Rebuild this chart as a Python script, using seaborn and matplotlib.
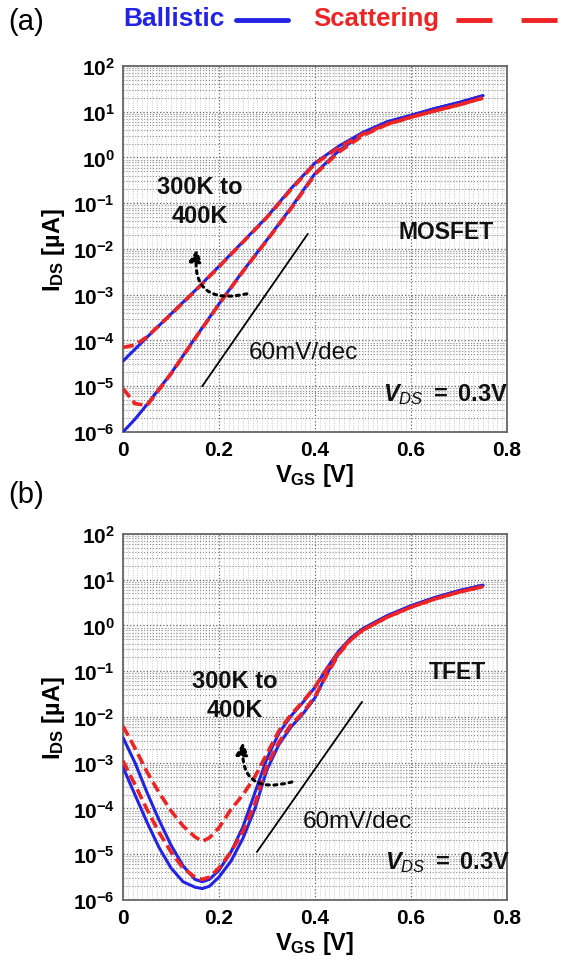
import numpy as np
import pandas as pd
import matplotlib
matplotlib.use("Agg")
import matplotlib.pyplot as plt
import seaborn as sns
from matplotlib.lines import Line2D
from matplotlib.ticker import LogLocator, MultipleLocator, NullFormatter

# ---------------- data (log10 of I_DS in uA) ----------------
# Panel (a) MOSFET
vgs_a = [0, 0.025, 0.05, 0.1, 0.15, 0.2, 0.25, 0.3, 0.35, 0.4, 0.45, 0.5, 0.55, 0.6, 0.65, 0.7, 0.75]
mos_ball_400K = [-4.45, -4.19, -3.93, -3.42, -2.91, -2.38, -1.84, -1.30, -0.68, -0.12, 0.25, 0.55, 0.78, 0.92, 1.07, 1.20, 1.35]
mos_scat_400K = [-4.15, -4.10, -3.92, -3.43, -2.92, -2.39, -1.85, -1.31, -0.70, -0.14, 0.22, 0.51, 0.73, 0.88, 1.02, 1.15, 1.30]
mos_ball_300K = [-6.00, -5.72, -5.40, -4.72, -3.95, -3.20, -2.48, -1.80, -1.10, -0.35, 0.15, 0.52, 0.77, 0.92, 1.07, 1.20, 1.35]
mos_scat_300K = [-5.05, -5.38, -5.42, -4.73, -3.96, -3.21, -2.49, -1.81, -1.12, -0.37, 0.12, 0.48, 0.72, 0.88, 1.02, 1.15, 1.30]

# Panel (b) TFET
vgs_b = [0, 0.025, 0.05, 0.075, 0.1, 0.125, 0.15, 0.165, 0.18, 0.2, 0.225, 0.25, 0.275,
         0.3, 0.325, 0.35, 0.375, 0.4, 0.425, 0.45, 0.475, 0.5, 0.55, 0.6, 0.65, 0.7, 0.75]
tfet_scat_400K = [-2.20, -2.68, -3.20, -3.65, -4.05, -4.38, -4.62, -4.72, -4.64, -4.42, -4.02, -3.70, -3.30,
                  -2.80, -2.30, -1.95, -1.66, -1.34, -0.95, -0.58, -0.30, -0.10, 0.18, 0.40, 0.58, 0.73, 0.85]
tfet_ball_400K = [-2.45, -3.00, -3.65, -4.25, -4.80, -5.25, -5.55, -5.60, -5.55, -5.35, -4.95, -4.40, -3.65,
                  -2.90, -2.35, -1.98, -1.68, -1.35, -0.93, -0.55, -0.27, -0.07, 0.21, 0.43, 0.61, 0.76, 0.88]
tfet_scat_300K = [-2.96, -3.48, -4.02, -4.52, -4.95, -5.30, -5.50, -5.55, -5.50, -5.30, -4.95, -4.50, -3.90,
                  -3.05, -2.55, -2.17, -1.90, -1.55, -1.07, -0.62, -0.31, -0.10, 0.18, 0.40, 0.58, 0.73, 0.85]
tfet_ball_300K = [-3.10, -3.70, -4.30, -4.85, -5.30, -5.60, -5.72, -5.75, -5.70, -5.50, -5.15, -4.65, -4.00,
                  -3.15, -2.60, -2.22, -1.93, -1.58, -1.05, -0.60, -0.28, -0.07, 0.21, 0.43, 0.61, 0.76, 0.88]

# 60 mV/dec guide lines (V, log10 I)
guide_a_v = [0.165, 0.385]
guide_a_log = [-5.0, -1.67]
guide_b_v = [0.279, 0.498]
guide_b_log = [-4.95, -1.67]

x_ticks = [0, 0.2, 0.4, 0.6, 0.8]
x_tick_labels = ["0", "0.2", "0.4", "0.6", "0.8"]
y_exponents = list(range(-6, 3))

# ---------------- style ----------------
sns.set_theme(style="white")
plt.rcParams["font.family"] = ["Liberation Sans", "DejaVu Sans"]
plt.rcParams["mathtext.fontset"] = "custom"
plt.rcParams["mathtext.rm"] = "Liberation Sans"
plt.rcParams["mathtext.it"] = "Liberation Sans:italic"
plt.rcParams["mathtext.bf"] = "Liberation Sans:bold"
plt.rcParams["mathtext.bfit"] = "Liberation Sans:bold:italic"
plt.rcParams["text.color"] = "black"
plt.rcParams["axes.labelcolor"] = "black"

BLUE = "#2323e6"
RED = "#ee2424"

fig = plt.figure(figsize=(5.66, 9.62), dpi=100)
ax_a = fig.add_axes([0.2173, 0.5499, 0.6784, 0.3805])
ax_b = fig.add_axes([0.2173, 0.0634, 0.6784, 0.3805])


def draw_curves(ax, v, curves):
    frames = []
    for name, model, vals in curves:
        frames.append(pd.DataFrame({"V": v, "I": np.power(10.0, np.array(vals)),
                                    "curve": name, "model": model}))
    df = pd.concat(frames, ignore_index=True)
    for name, model, _ in curves:
        sub = df[df["curve"] == name]
        if model == "Ballistic":
            sns.lineplot(data=sub, x="V", y="I", ax=ax, color=BLUE, lw=2.2,
                         estimator=None, sort=False, zorder=3)
    for name, model, _ in curves:
        sub = df[df["curve"] == name]
        if model == "Scattering":
            sns.lineplot(data=sub, x="V", y="I", ax=ax, color=RED, lw=2.6,
                         linestyle=(0, (3.0, 1.4)), estimator=None, sort=False, zorder=4)


def style_axes(ax):
    ax.set_yscale("log")
    ax.set_xlim(0, 0.8)
    ax.set_ylim(1e-6, 1e2)
    ax.set_yticks([10.0 ** e for e in y_exponents])
    ax.set_yticklabels([r"$\mathbf{10^{%d}}$" % e for e in y_exponents])
    ax.yaxis.set_minor_locator(LogLocator(base=10, subs=np.arange(2, 10)))
    ax.yaxis.set_minor_formatter(NullFormatter())
    ax.set_xticks(x_ticks)
    ax.set_xticklabels(x_tick_labels, fontweight="bold")
    ax.xaxis.set_minor_locator(MultipleLocator(0.01))
    ax.grid(which="major", axis="both", ls=":", color="#666666", lw=0.9)
    ax.grid(which="minor", axis="y", ls=":", color="#8c8c8c", lw=0.8)
    ax.grid(which="minor", axis="x", ls=":", color="#bdbdbd", lw=0.6)
    ax.tick_params(which="both", length=0, labelsize=15, pad=6, colors="black")
    for s in ax.spines.values():
        s.set_color("#666666")
        s.set_linewidth(1.3)
    ax.set_xlabel(r"$\mathbf{V_{GS}}$ [V]", fontsize=17, fontweight="bold", labelpad=1)
    ax.set_ylabel(r"$\mathbf{I_{DS}}$ [µA]", fontsize=17, fontweight="bold", labelpad=4)


draw_curves(ax_a, vgs_a, [("b400", "Ballistic", mos_ball_400K), ("b300", "Ballistic", mos_ball_300K),
                          ("s400", "Scattering", mos_scat_400K), ("s300", "Scattering", mos_scat_300K)])
draw_curves(ax_b, vgs_b, [("b400", "Ballistic", tfet_ball_400K), ("b300", "Ballistic", tfet_ball_300K),
                          ("s400", "Scattering", tfet_scat_400K), ("s300", "Scattering", tfet_scat_300K)])

for ax in (ax_a, ax_b):
    style_axes(ax)

# guide lines
ax_a.plot(guide_a_v, np.power(10.0, guide_a_log), color="black", lw=1.3, zorder=5)
ax_b.plot(guide_b_v, np.power(10.0, guide_b_log), color="black", lw=1.3, zorder=5)


def annot(ax, temp_xy, slope_xy, dev_xy, dev, vds_xy, arrow_from, arrow_to):
    ax.text(temp_xy[0], 10 ** temp_xy[1], "300K to\n400K", fontsize=17, fontweight="bold",
            ha="center", va="center", linespacing=1.35, zorder=6, color="#111111")
    ax.text(slope_xy[0], 10 ** slope_xy[1], "60mV/dec", fontsize=17.5, ha="center", va="center",
            zorder=6, color="#111111")
    ax.text(dev_xy[0], 10 ** dev_xy[1], dev, fontsize=16.5, fontweight="bold", ha="center", va="center",
            zorder=6, color="#111111")
    ax.text(vds_xy[0], 10 ** vds_xy[1], r"$\mathbfit{V}_{\mathit{DS}}\mathbf{\ =\ 0.3V}$", fontsize=17,
            ha="center", va="center", zorder=6, color="#111111")
    ax.annotate("", xy=(arrow_to[0], 10 ** arrow_to[1]), xytext=(arrow_from[0], 10 ** arrow_from[1]),
                arrowprops=dict(arrowstyle="-|>,head_length=0.6,head_width=0.3", ls=(0, (1, 1.5)), lw=2.2,
                                color="black", connectionstyle="arc3,rad=-0.7", shrinkA=0, shrinkB=0),
                zorder=6)


annot(ax_a, (0.160, -0.95), (0.375, -4.25), (0.673, -1.61), "MOSFET", (0.671, -5.17),
      (0.258, -2.98), (0.154, -2.0))
annot(ax_b, (0.233, -1.52), (0.4875, -4.27), (0.696, -1.0), "TFET", (0.675, -5.15),
      (0.352, -3.42), (0.25, -2.55))

# panel letters
fig.text(8 / 566, 1 - 22 / 962, "(a)", fontsize=21, ha="left", va="center")
fig.text(8 / 566, 1 - 495 / 962, "(b)", fontsize=21, ha="left", va="center")

# top legend
fig.text(123 / 566, 1 - 19 / 962, "Ballistic", fontsize=19, fontweight="bold", color=BLUE,
         ha="left", va="center")
fig.add_artist(Line2D([236 / 566, 288 / 566], [1 - 21 / 962, 1 - 21 / 962], transform=fig.transFigure,
                      color=BLUE, lw=3.5))
fig.text(313 / 566, 1 - 19 / 962, "Scattering", fontsize=18.5, fontweight="bold", color=RED,
         ha="left", va="center")
fig.add_artist(Line2D([456 / 566, 558 / 566], [1 - 21 / 962, 1 - 21 / 962], transform=fig.transFigure,
                      color=RED, lw=3.5, linestyle=(0, (7.4, 6.0))))

fig.savefig("out.png", dpi=100)
